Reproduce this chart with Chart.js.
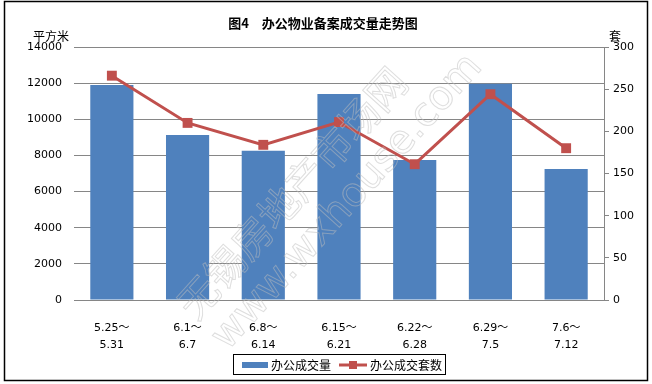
<!DOCTYPE html>
<html>
<head>
<meta charset="utf-8">
<script src="https://cdn.jsdelivr.net/npm/chart.js@4"></script>
<style>
  html, body { margin: 0; padding: 0; background: #fff; }
  #wrap { position: relative; width: 652px; height: 384px; }
</style>
</head>
<body>
<div id="wrap"><canvas id="myChart"></canvas></div>
<script>
// 周（カテゴリ）と2系列
const weekLabels = [
  ['5.25～', '5.31'],
  ['6.1～', '6.7'],
  ['6.8～', '6.14'],
  ['6.15～', '6.21'],
  ['6.22～', '6.28'],
  ['6.29～', '7.5'],
  ['7.6～', '7.12']
];
const areaValues = [11900, 9130, 8260, 11400, 7750, 11960, 7250];   // 平方米
const unitCounts = [266, 210, 184, 211, 161, 244, 180];              // 套

const leftTicks = [0, 2000, 4000, 6000, 8000, 10000, 12000, 14000];
const rightTicks = [0, 50, 100, 150, 200, 250, 300];

const chartTitle = '图4　办公物业备案成交量走势图';
const leftUnit = '平方米';
const rightUnit = '套';

const barColor = '#4F81BD';
const lineColor = '#C0504D';
const gridColor = '#868686';
const numFont = '"DejaVu Sans", "Noto Sans CJK SC", sans-serif';
const cjkFont = '"Noto Sans CJK SC", sans-serif';

// タイトル・単位・凡例・枠線などを描くプラグイン
const decoPlugin = {
  id: 'deco',
  afterDraw(chart) {
    const c = chart.ctx;
    c.save();
    // 透かし
    c.translate(315, 200);
    c.rotate(-48 * Math.PI / 180);
    c.strokeStyle = 'rgba(190,190,190,0.5)';
    c.lineWidth = 1;
    c.textAlign = 'center';
    c.textBaseline = 'middle';
    c.font = '40px ' + cjkFont;
    c.strokeText('无锡房地产市场网', -10, -22);
    c.font = '40px "DejaVu Sans", sans-serif';
    c.strokeText('www.wxhouse.com', 20, 26);
    c.restore();

    c.save();
    c.fillStyle = '#000';
    c.textBaseline = 'middle';
    c.textAlign = 'center';
    c.font = 'bold 13px ' + cjkFont;
    c.fillText(chartTitle, 323, 23);

    c.font = '12px ' + cjkFont;
    c.textAlign = 'left';
    c.fillText(leftUnit, 33, 36);
    c.fillText(rightUnit, 609, 36);

    // 凡例（棒 → 折れ線の順）
    const bar = chart.data.datasets.find(d => d.type === 'bar');
    const line = chart.data.datasets.find(d => d.type === 'line');
    c.strokeStyle = '#000';
    c.lineWidth = 1;
    c.strokeRect(233.5, 354.5, 212, 20);
    c.fillStyle = bar.backgroundColor;
    c.fillRect(242, 362, 26, 6);
    c.fillStyle = '#000';
    c.fillText(bar.label, 271, 365);
    c.strokeStyle = line.borderColor;
    c.lineWidth = 3;
    c.beginPath();
    c.moveTo(339, 365);
    c.lineTo(367, 365);
    c.stroke();
    c.fillStyle = line.pointBackgroundColor;
    c.fillRect(349, 361, 8, 8);
    c.fillStyle = '#000';
    c.fillText(line.label, 370, 365);

    // 外枠
    c.strokeStyle = '#000';
    c.lineWidth = 1.5;
    c.strokeRect(4.5, 1.5, 643, 379);
    c.restore();
  }
};

const ctx = document.getElementById('myChart').getContext('2d');

new Chart(ctx, {
  type: 'bar',
  data: {
    labels: weekLabels,
    datasets: [
      {
        type: 'line',
        label: '办公成交套数',
        data: unitCounts,
        yAxisID: 'y1',
        borderColor: lineColor,
        backgroundColor: lineColor,
        borderWidth: 3,
        pointStyle: 'rect',
        pointRadius: 7,
        pointHoverRadius: 7,
        pointBackgroundColor: lineColor,
        pointBorderColor: lineColor,
        pointBorderWidth: 0,
        tension: 0,
        order: 0
      },
      {
        type: 'bar',
        label: '办公成交量',
        data: areaValues,
        yAxisID: 'y',
        backgroundColor: barColor,
        borderWidth: 0,
        categoryPercentage: 1,
        barPercentage: 0.57,
        order: 1
      }
    ]
  },
  options: {
    responsive: true,
    maintainAspectRatio: false,
    animation: false,
    layout: { padding: { top: 47, left: 0, right: 0, bottom: 0 } },
    plugins: {
      legend: { display: false },
      title: { display: false },
      tooltip: { enabled: false }
    },
    scales: {
      x: {
        grid: { display: false },
        border: { display: true, color: gridColor },
        ticks: {
          color: '#000',
          padding: 12,
          maxRotation: 0,
          autoSkip: false,
          font: { family: numFont, size: 11, lineHeight: '17px' }
        },
        afterFit(scale) { scale.height = 84; }
      },
      y: {
        position: 'left',
        min: 0,
        max: 14000,
        afterBuildTicks(scale) { scale.ticks = leftTicks.map(v => ({ value: v })); },
        grid: { color: gridColor, drawTicks: false },
        border: { display: false },
        ticks: {
          color: '#000',
          padding: 12,
          font: { family: numFont, size: 11 },
          callback: v => String(v)
        },
        afterFit(scale) { scale.width = 74; }
      },
      y1: {
        position: 'right',
        min: 0,
        max: 300,
        afterBuildTicks(scale) { scale.ticks = rightTicks.map(v => ({ value: v })); },
        grid: { drawOnChartArea: false, drawTicks: true, tickLength: 5, color: gridColor },
        border: { display: true, color: gridColor },
        ticks: {
          color: '#000',
          padding: 4,
          font: { family: numFont, size: 11 },
          callback: v => String(v)
        },
        afterFit(scale) { scale.width = 48; }
      }
    }
  },
  plugins: [decoPlugin]
});
</script>
</body>
</html>
